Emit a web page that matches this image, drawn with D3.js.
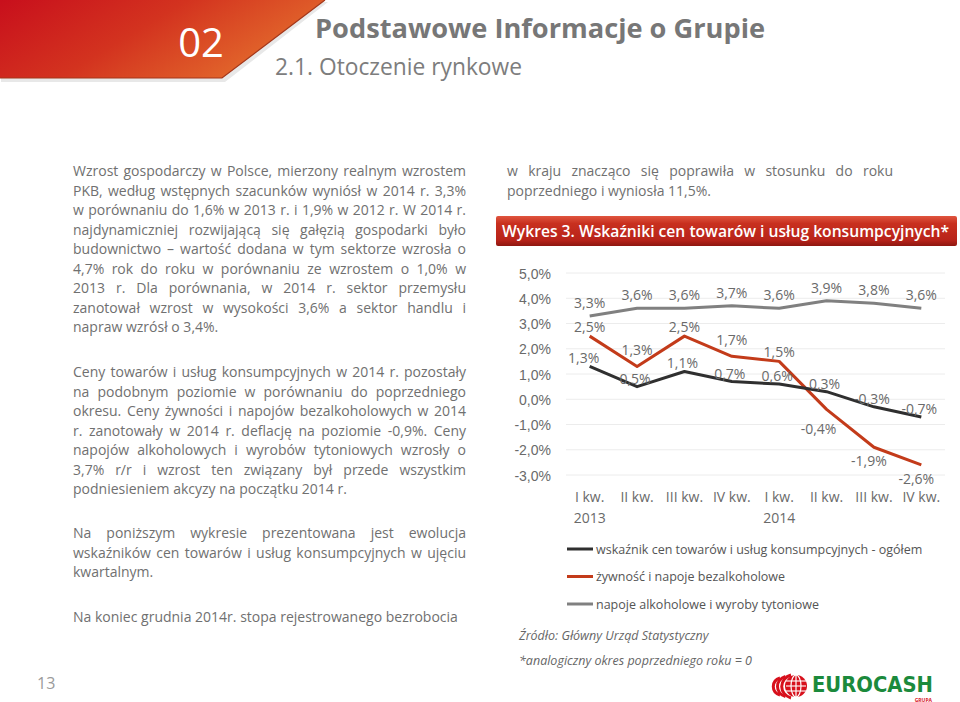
<!DOCTYPE html>
<html><head><meta charset="utf-8">
<script src="https://cdn.jsdelivr.net/npm/d3@7"></script>
<style>
html,body{margin:0;padding:0;background:#fff;}
svg{display:block;font-family:"Open Sans","Noto Sans",sans-serif;}
.body{font-size:14px;fill:#707070;}
.tick{font-size:14px;fill:#6a6a6a;}
.lbl{font-size:14px;fill:#6a6a6a;}
</style></head><body>
<script>
// ---------- data ----------
const quarters = ["I kw.", "II kw.", "III kw.", "IV kw.", "I kw.", "II kw.", "III kw.", "IV kw."];
const years = ["2013", "", "", "", "2014", "", "", ""];
const ogolem = [1.3, 0.5, 1.1, 0.7, 0.6, 0.3, -0.3, -0.7];
const zywnosc = [2.5, 1.3, 2.5, 1.7, 1.5, -0.4, -1.9, -2.6];
const alkohol = [3.3, 3.6, 3.6, 3.7, 3.6, 3.9, 3.8, 3.6];
const yTicks = [5, 4, 3, 2, 1, 0, -1, -2, -3];
const seriesNames = ["wskaźnik cen towarów i usług konsumpcyjnych - ogółem", "żywność i napoje bezalkoholowe", "napoje alkoholowe i wyroby tytoniowe"];

const para1 = [
"Wzrost gospodarczy w Polsce, mierzony realnym wzrostem",
"PKB, według wstępnych szacunków wyniósł w 2014 r. 3,3%",
"w porównaniu do 1,6% w 2013 r. i 1,9% w 2012 r. W 2014 r.",
"najdynamiczniej rozwijającą się gałęzią gospodarki było",
"budownictwo – wartość dodana w tym sektorze wzrosła o",
"4,7% rok do roku w porównaniu ze wzrostem o 1,0% w",
"2013 r. Dla porównania, w 2014 r. sektor przemysłu",
"zanotował wzrost w wysokości 3,6% a sektor handlu i",
"napraw wzrósł o 3,4%."];
const para2 = [
"Ceny towarów i usług konsumpcyjnych w 2014 r. pozostały",
"na podobnym poziomie w porównaniu do poprzedniego",
"okresu. Ceny żywności i napojów bezalkoholowych w 2014",
"r. zanotowały w 2014 r. deflację na poziomie -0,9%.  Ceny",
"napojów alkoholowych i wyrobów tytoniowych wzrosły o",
"3,7% r/r i wzrost ten związany był przede wszystkim",
"podniesieniem akcyzy na początku 2014 r."];
const para3 = [
"Na poniższym wykresie prezentowana jest ewolucja",
"wskaźników cen towarów i usług konsumpcyjnych w ujęciu",
"kwartalnym."];
const para4 = ["Na koniec grudnia 2014r. stopa rejestrowanego bezrobocia"];
const para5 = [
"w kraju znacząco się poprawiła w stosunku do roku",
"poprzedniego i wyniosła 11,5%."];

// ---------- page ----------
const W = 960, H = 702;
const svg = d3.select("body").append("svg").attr("width", W).attr("height", H);
const defs = svg.append("defs");

const hg = defs.append("linearGradient").attr("id", "hg").attr("x1", "0").attr("y1", "0").attr("x2", "1").attr("y2", "0.4");
hg.append("stop").attr("offset", "0").attr("stop-color", "#c80f1c");
hg.append("stop").attr("offset", "0.5").attr("stop-color", "#d3331f");
hg.append("stop").attr("offset", "1").attr("stop-color", "#e36a2c");

const bg = defs.append("linearGradient").attr("id", "bg").attr("x1", "0").attr("y1", "0").attr("x2", "0").attr("y2", "1");
bg.append("stop").attr("offset", "0").attr("stop-color", "#e0553f");
bg.append("stop").attr("offset", "0.25").attr("stop-color", "#c8301f");
bg.append("stop").attr("offset", "0.8").attr("stop-color", "#b8231a");
bg.append("stop").attr("offset", "1").attr("stop-color", "#8e1710");

// header shape
svg.append("path").attr("d", "M0,0 L327,0 L224,80 L0,80 Z").attr("fill", "#e8e8e8").attr("transform", "translate(1,2)");
svg.append("path").attr("d", "M0,0 L325,0 L222,78 L0,78 Z").attr("fill", "url(#hg)");
svg.append("path").attr("d", "M325,0 L222,78 L0,78").attr("fill", "none").attr("stroke", "#a3361a").attr("stroke-width", 1.2);
svg.append("text").attr("x", 201).attr("y", 57).attr("text-anchor", "middle")
  .style("font-size", "40px").style("fill", "#fff").text("02");

svg.append("text").attr("x", 315).attr("y", 38).attr("textLength", 450).attr("lengthAdjust", "spacingAndGlyphs")
  .style("font-size", "27px").style("font-weight", "700").style("fill", "#777").text("Podstawowe Informacje o Grupie");
svg.append("text").attr("x", 275).attr("y", 75).attr("textLength", 247).attr("lengthAdjust", "spacingAndGlyphs")
  .style("font-size", "23px").style("fill", "#7d7d7d").text("2.1. Otoczenie rynkowe");

// justified paragraphs
function para(lines, x, y, lh, w) {
  lines.forEach((ln, i) => {
    const t = svg.append("text").attr("class", "body").attr("x", x).attr("y", y + i * lh);
    if (i === lines.length - 1) { t.text(ln); return; }
    const words = ln.split(/\s+/);
    const spans = words.map(wd => t.append("tspan").text(wd));
    const widths = spans.map(s => s.node().getComputedTextLength());
    const gap = (w - d3.sum(widths)) / (words.length - 1);
    let cx = x;
    spans.forEach((s, j) => { s.attr("x", cx); cx += widths[j] + gap; });
  });
}
para(para1, 73, 176, 19.5, 393);
para(para2, 73, 377, 19.5, 393);
para(para3, 73, 538, 19.5, 393);
svg.append("text").attr("class", "body").attr("x", 73).attr("y", 622).text(para4[0]);
para(para5, 507, 176, 19.5, 386);

// red band
svg.append("rect").attr("x", 496).attr("y", 216).attr("width", 461).attr("height", 30).attr("rx", 2).attr("fill", "url(#bg)");
svg.append("text").attr("x", 502).attr("y", 237).attr("textLength", 447).attr("lengthAdjust", "spacingAndGlyphs")
  .style("font-size", "16px").style("font-weight", "600").style("fill", "#fff")
  .text("Wykres 3. Wskaźniki cen towarów i usług konsumpcyjnych*");

// ---------- chart ----------
const x = d3.scaleBand().domain(d3.range(quarters.length)).range([566, 945]);
const y = d3.scaleLinear().domain([-3, 5]).range([475, 273]);
const cx = i => x(i) + x.bandwidth() / 2;

const grid = svg.append("g");
grid.selectAll("line").data(yTicks).join("line")
  .attr("x1", 566).attr("x2", 945).attr("y1", d => y(d)).attr("y2", d => y(d))
  .attr("stroke", "#ececec").attr("stroke-width", 1);

const fmt = v => d3.format(".1f")(v).replace(".", ",").replace("−", "-") + "%";
const yAxis = d3.axisLeft(y).tickValues(yTicks).tickSize(0).tickPadding(0).tickFormat(fmt);
const ya = svg.append("g").attr("transform", "translate(551,0)").call(yAxis);
ya.select(".domain").remove();
ya.selectAll("text").attr("class", "tick").attr("font-family", null).attr("font-size", null).attr("fill", null).attr("dy", "0.36em");

const xa = svg.append("g");
xa.selectAll("text.q").data(quarters).join("text").attr("class", "tick q")
  .attr("x", (d, i) => cx(i)).attr("y", 502).attr("text-anchor", "middle").text(d => d);
xa.selectAll("text.yr").data(years).join("text").attr("class", "tick yr")
  .attr("x", (d, i) => cx(i)).attr("y", 523).attr("text-anchor", "middle").text(d => d);

const series = [
  { vals: alkohol, color: "#808080", name: seriesNames[2] },
  { vals: zywnosc, color: "#c33b1a", name: seriesNames[1] },
  { vals: ogolem, color: "#2f2f2f", name: seriesNames[0] }
];
const line = d3.line().x((d, i) => cx(i)).y(d => y(d));
series.forEach(s => {
  svg.append("path").datum(s.vals).attr("d", line).attr("fill", "none")
    .attr("stroke", s.color).attr("stroke-width", 3).attr("stroke-linejoin", "round");
});

// labels
const lg = svg.append("g");
function labels(vals, fn) {
  vals.forEach((v, i) => {
    const o = fn(v, i);
    lg.append("text").attr("class", "lbl").attr("x", cx(i) + o[0]).attr("y", y(v) + o[1])
      .attr("text-anchor", "middle").text(fmt(v));
  });
}
labels(alkohol, () => [0, -8]);
labels(zywnosc, (v, i) => v < 0 ? [v > -1 ? -8 : -5, v > -1 ? 25 : 19] : [0, -4 - (i % 2) * 7]);
labels(ogolem, (v, i) => [i === 0 ? -6 : -2, -3]);

// legend
const leg = svg.append("g");
[series[2], series[1], series[0]].forEach((s, i) => {
  const yy = 549 + i * 27.5;
  leg.append("line").attr("x1", 567).attr("x2", 593).attr("y1", yy).attr("y2", yy)
    .attr("stroke", s.color).attr("stroke-width", 3);
  leg.append("text").attr("x", 596).attr("y", yy + 4.5).style("font-size", "12.5px").style("fill", "#555").text(s.name);
});

svg.append("text").attr("x", 519).attr("y", 640).style("font-size", "12.5px").style("font-style", "italic").style("fill", "#666")
  .text("Źródło: Główny Urząd Statystyczny");
svg.append("text").attr("x", 519).attr("y", 665).style("font-size", "12.5px").style("font-style", "italic").style("fill", "#666")
  .text("*analogiczny okres poprzedniego roku = 0");

// page number
svg.append("text").attr("x", 37).attr("y", 689).style("font-size", "16px").style("fill", "#9a9a9a").text("13");

// logo
const logo = svg.append("g");
const red = "#d7101c";
[0, 1, 2].forEach(k => {
  const ox = 791 - k * 5.5;
  logo.append("path")
    .attr("d", `M${ox},${675 + k * 1.5} A${13 - k * 1.5},${12 - k * 1.5} 0 0 0 ${ox},${698 - k * 1.5}`)
    .attr("fill", "none").attr("stroke", red).attr("stroke-width", 3);
});
logo.append("ellipse").attr("cx", 796).attr("cy", 686).attr("rx", 11).attr("ry", 11).attr("fill", red);
logo.append("ellipse").attr("cx", 796).attr("cy", 686).attr("rx", 5).attr("ry", 11).attr("fill", "none").attr("stroke", "#fff").attr("stroke-width", 1.2);
logo.append("line").attr("x1", 796).attr("x2", 796).attr("y1", 675).attr("y2", 697).attr("stroke", "#fff").attr("stroke-width", 1.2);
[-5, 0, 5].forEach(d => logo.append("line").attr("x1", 786).attr("x2", 806).attr("y1", 686 + d).attr("y2", 686 + d).attr("stroke", "#fff").attr("stroke-width", 1.1));
logo.append("text").attr("x", 812).attr("y", 692).attr("textLength", 121).attr("lengthAdjust", "spacingAndGlyphs")
  .style("font-size", "21px").style("font-weight", "900").style("font-family", "'DejaVu Sans', sans-serif").style("fill", "#1b8a3c").text("EUROCASH");
logo.append("text").attr("x", 932).attr("y", 701.5).attr("text-anchor", "end")
  .style("font-size", "5px").style("font-weight", "700").style("fill", red).text("GRUPA");
</script>
</body></html>
